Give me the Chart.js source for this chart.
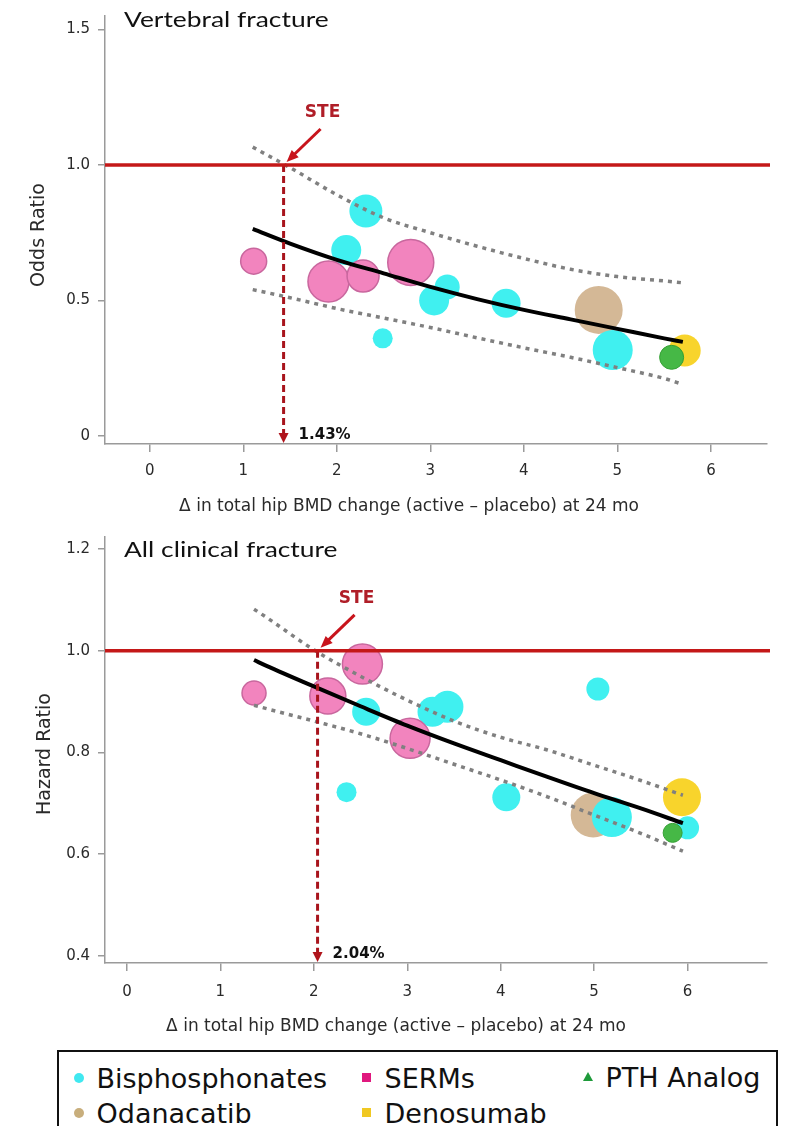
<!DOCTYPE html>
<html><head><meta charset="utf-8">
<script src="https://cdn.jsdelivr.net/npm/chart.js@4.4.1/dist/chart.umd.min.js"></script>
<style>
html,body{margin:0;padding:0;background:#fff;width:785px;height:1126px;overflow:hidden;}
#c1{position:absolute;left:0;top:0;}
#c2{position:absolute;left:0;top:520px;}
#legend{position:absolute;left:57px;top:1050px;width:721px;height:100px;border:2.5px solid #111;box-sizing:border-box;font-family:'DejaVu Sans';font-size:27px;color:#111;}
.item{position:absolute;white-space:nowrap;line-height:27px;}
.mk{position:absolute;}
</style></head>
<body>
<canvas id="c1" width="785" height="520"></canvas>
<canvas id="c2" width="785" height="522"></canvas>
<div id="legend"></div>
<script>
// ---------- shared ----------
const xTickVals = [0, 1, 2, 3, 4, 5, 6];
const xTickLabels = ['0', '1', '2', '3', '4', '5', '6'];
const xAxisTitle = 'Δ in total hip BMD change (active – placebo) at 24 mo';
const seriesNames = ['Bisphosphonates', 'SERMs', 'PTH Analog', 'Odanacatib', 'Denosumab'];

// ---------- Vertebral fracture ----------
const vTitle = 'Vertebral fracture';
const vYTitle = 'Odds Ratio';
const vYTickVals = [0, 0.5, 1.0, 1.5];
const vYTickLabels = ['0', '0.5', '1.0', '1.5'];
const vSTE = 1.43;
const vSTELabel = '1.43%';
const vBisX = [2.31, 2.10, 3.18, 3.04, 2.49, 3.81, 4.95];
const vBisY = [0.83, 0.686, 0.55, 0.50, 0.36, 0.49, 0.317];
const vBisR = [16.5, 15, 12.5, 15, 10, 14.5, 20];
const vSermX = [1.11, 1.91, 2.28, 2.79];
const vSermY = [0.645, 0.57, 0.59, 0.64];
const vSermR = [13, 20.5, 16, 23];
const vOdaX = [4.80];
const vOdaY = [0.465];
const vOdaR = [24];
const vDenoX = [5.72];
const vDenoY = [0.315];
const vDenoR = [16];
const vPthX = [5.58];
const vPthY = [0.29];
const vPthR = [12];
const vFitX = [1.1, 1.5, 2, 2.5, 3, 3.5, 4, 4.5, 5, 5.5, 5.7];
const vFitY = [0.764, 0.71, 0.65, 0.60, 0.55, 0.505, 0.465, 0.43, 0.395, 0.36, 0.347];
const vUpY = [1.066, 0.99, 0.89, 0.805, 0.75, 0.70, 0.655, 0.615, 0.588, 0.572, 0.565];
const vLoY = [0.54, 0.51, 0.47, 0.435, 0.40, 0.362, 0.325, 0.29, 0.252, 0.212, 0.19];

// ---------- All clinical fracture ----------
const cTitle = 'All clinical fracture';
const cYTitle = 'Hazard Ratio';
const cYTickVals = [0.4, 0.6, 0.8, 1.0, 1.2];
const cYTickLabels = ['0.4', '0.6', '0.8', '1.0', '1.2'];
const cSTE = 2.04;
const cSTELabel = '2.04%';
const cBisX = [2.56, 2.35, 3.27, 3.43, 5.04, 4.06, 5.19, 6.0];
const cBisY = [0.88, 0.722, 0.88, 0.89, 0.925, 0.712, 0.673, 0.652];
const cBisR = [14, 10, 15, 16, 11.5, 14, 20, 11.5];
const cSermX = [1.36, 2.15, 2.52, 3.03];
const cSermY = [0.917, 0.911, 0.974, 0.828];
const cSermR = [12, 18, 20, 20];
const cOdaX = [4.99];
const cOdaY = [0.677];
const cOdaR = [22.5];
const cDenoX = [5.94];
const cDenoY = [0.712];
const cDenoR = [19];
const cPthX = [5.84];
const cPthY = [0.642];
const cPthR = [9.5];
const cFitX = [1.36, 1.5, 2, 2.5, 3, 3.5, 4, 4.5, 5, 5.5, 5.95];
const cFitY = [0.982, 0.970, 0.930, 0.891, 0.853, 0.818, 0.785, 0.752, 0.72, 0.69, 0.661];
const cUpY = [1.082, 1.065, 1.002, 0.95, 0.903, 0.862, 0.83, 0.805, 0.775, 0.745, 0.716];
const cLoY = [0.893, 0.886, 0.862, 0.837, 0.808, 0.777, 0.746, 0.713, 0.677, 0.641, 0.606];

// ---------- helpers ----------
const bub = (xs, ys, rs) => xs.map((x, i) => ({x: x, y: ys[i], r: rs[i]}));
const pts = (xs, ys) => xs.map((x, i) => ({x: x, y: ys[i]}));
const AXIS = '#9a9a9a';
const TXT = '#2a2a2a';

const decoPlugin = {
  id: 'deco',
  afterDatasetsDraw(chart, args, o) {
    const {ctx, chartArea: a, scales: {x, y}} = chart;
    ctx.save();
    const y1 = y.getPixelForValue(1);
    const sx = x.getPixelForValue(o.ste);
    // dashed vertical
    ctx.strokeStyle = '#A8141C'; ctx.lineWidth = 3; ctx.setLineDash([7, 4]);
    ctx.beginPath(); ctx.moveTo(sx, y1); ctx.lineTo(sx, a.bottom - 10); ctx.stroke();
    ctx.setLineDash([]);
    ctx.fillStyle = '#B0141C';
    ctx.beginPath(); ctx.moveTo(sx - 5, a.bottom - 11); ctx.lineTo(sx + 5, a.bottom - 11); ctx.lineTo(sx, a.bottom - 1); ctx.closePath(); ctx.fill();
    // red reference line
    ctx.strokeStyle = '#C41818'; ctx.lineWidth = 3.5;
    ctx.beginPath(); ctx.moveTo(a.left, y1); ctx.lineTo(a.right + 3, y1); ctx.stroke();
    // STE arrow
    const tx = sx + 3, ty = y1 - 3;
    const fx = sx + 37, fy = y1 - 36;
    ctx.strokeStyle = '#C8141C'; ctx.lineWidth = 3;
    ctx.beginPath(); ctx.moveTo(fx, fy); ctx.lineTo(tx + 6, ty - 6); ctx.stroke();
    const ang = Math.atan2(ty - fy, tx - fx);
    ctx.fillStyle = '#C8141C';
    ctx.beginPath();
    ctx.moveTo(tx, ty);
    ctx.lineTo(tx - 12 * Math.cos(ang) + 5 * Math.sin(ang), ty - 12 * Math.sin(ang) - 5 * Math.cos(ang));
    ctx.lineTo(tx - 12 * Math.cos(ang) - 5 * Math.sin(ang), ty - 12 * Math.sin(ang) + 5 * Math.cos(ang));
    ctx.closePath(); ctx.fill();
    // STE label
    ctx.fillStyle = '#B01E28';
    ctx.font = 'bold 17px "DejaVu Sans"';
    ctx.textAlign = 'center'; ctx.textBaseline = 'middle';
    ctx.fillText('STE', sx + 39, y1 - 52);
    // value label
    ctx.fillStyle = '#111';
    ctx.font = 'bold 15px "DejaVu Sans"';
    ctx.textAlign = 'left';
    ctx.fillText(o.steLabel, sx + 15, a.bottom - 9);
    // x-axis title
    ctx.font = '17px "DejaVu Sans"';
    ctx.fillStyle = TXT;
    ctx.textAlign = 'center'; ctx.textBaseline = 'middle';
    ctx.fillText(xAxisTitle, o.xTitleX, o.xTitleY);
    // panel title (horizontally widened like the reference)
    ctx.save();
    ctx.translate(a.left + 19, o.titleBase);
    ctx.scale(1.2, 1);
    ctx.font = '22px Lato';
    ctx.fillStyle = '#111';
    ctx.textAlign = 'left';
    ctx.textBaseline = 'alphabetic';
    ctx.fillText(o.title, 0, 0);
    ctx.restore();
    // y-axis title
    ctx.fillStyle = TXT;
    ctx.textAlign = 'center'; ctx.textBaseline = 'middle';
    ctx.translate(o.yTitleX, (a.top + a.bottom) / 2 + o.yTitleDy);
    ctx.rotate(-Math.PI / 2);
    ctx.font = '19px "DejaVu Sans"';
    ctx.fillText(o.yTitle, 0, 0);
    ctx.restore();
  }
};

function makeChart(id, cfg) {
  const datasets = [
    {type: 'line', data: pts(cfg.fitX, cfg.fitY), borderColor: '#000', borderWidth: 4, pointRadius: 0, cubicInterpolationMode: 'monotone', fill: false, order: 1},
    {type: 'line', data: pts(cfg.fitX, cfg.upY), borderColor: '#808080', borderWidth: 3.5, borderDash: [4, 5], pointRadius: 0, cubicInterpolationMode: 'monotone', fill: false, order: 2},
    {type: 'line', data: pts(cfg.fitX, cfg.loY), borderColor: '#808080', borderWidth: 3.5, borderDash: [4, 5], pointRadius: 0, cubicInterpolationMode: 'monotone', fill: false, order: 3},
    {type: 'bubble', label: seriesNames[2], data: bub(cfg.pthX, cfg.pthY, cfg.pthR), backgroundColor: '#46B846', borderColor: '#34A034', borderWidth: 1, order: 4},
    {type: 'bubble', label: seriesNames[1], data: bub(cfg.sermX, cfg.sermY, cfg.sermR), backgroundColor: '#F284BE', borderColor: '#C9679E', borderWidth: 1.5, order: 5},
    {type: 'bubble', label: seriesNames[0], data: bub(cfg.bisX, cfg.bisY, cfg.bisR), backgroundColor: '#40F0F0', borderWidth: 0, order: 6},
    {type: 'bubble', label: seriesNames[4], data: bub(cfg.denoX, cfg.denoY, cfg.denoR), backgroundColor: '#F8D42C', borderWidth: 0, order: 7},
    {type: 'bubble', label: seriesNames[3], data: bub(cfg.odaX, cfg.odaY, cfg.odaR), backgroundColor: '#D4B896', borderWidth: 0, order: 8}
  ];
  return new Chart(document.getElementById(id), {
    type: 'bubble',
    data: {datasets: datasets},
    options: {
      responsive: false, animation: false, devicePixelRatio: 1,
      layout: {autoPadding: false, padding: {left: 0, right: 18, top: cfg.padTop, bottom: 0}},
      plugins: {legend: {display: false}, tooltip: {enabled: false}, deco: cfg.deco},
      scales: {
        x: {
          type: 'linear', min: cfg.xMin, max: cfg.xMax,
          afterBuildTicks: s => { s.ticks = xTickVals.map(v => ({value: v})); },
          afterFit: s => { s.height = cfg.xAxisH; s.paddingLeft = 0; s.paddingRight = 0; s.paddingTop = 0; s.paddingBottom = 0; },
          ticks: {autoSkip: false, maxRotation: 0, padding: cfg.xTickPad, color: TXT, font: {family: 'DejaVu Sans', size: 15},
                  callback: v => xTickLabels[xTickVals.indexOf(v)]},
          grid: {drawOnChartArea: false, drawTicks: true, tickLength: 8, color: AXIS, lineWidth: 1.5},
          border: {display: true, color: AXIS, width: 1.5}
        },
        y: {
          type: 'linear', min: cfg.yMin, max: cfg.yMax,
          afterBuildTicks: s => { s.ticks = cfg.yTickVals.map(v => ({value: v})); },
          afterFit: s => { s.width = 105; s.paddingTop = 0; s.paddingBottom = 0; s.paddingLeft = 0; s.paddingRight = 0; },
          ticks: {autoSkip: false, padding: 8, color: TXT, font: {family: 'DejaVu Sans', size: 15},
                  callback: v => cfg.yTickLabels[cfg.yTickVals.findIndex(t => Math.abs(t - v) < 1e-9)]},
          grid: {drawOnChartArea: false, drawTicks: true, tickLength: 7, color: AXIS, lineWidth: 1.5},
          border: {display: true, color: AXIS, width: 1.5}
        }
      }
    },
    plugins: [decoPlugin]
  });
}

makeChart('c1', {
  fitX: vFitX, fitY: vFitY, upY: vUpY, loY: vLoY,
  bisX: vBisX, bisY: vBisY, bisR: vBisR, sermX: vSermX, sermY: vSermY, sermR: vSermR,
  odaX: vOdaX, odaY: vOdaY, odaR: vOdaR, denoX: vDenoX, denoY: vDenoY, denoR: vDenoR,
  pthX: vPthX, pthY: vPthY, pthR: vPthR,
  xMin: -0.48, xMax: 6.6, yMin: -0.03, yMax: 1.55, padTop: 16, xAxisH: 76, xTickPad: 10,
  yTickVals: vYTickVals, yTickLabels: vYTickLabels,
  deco: {ste: vSTE, steLabel: vSTELabel, title: vTitle, titleBase: 27, yTitle: vYTitle,
         xTitleX: 409, xTitleY: 507, yTitleX: 39.5, yTitleDy: 5}
});
makeChart('c2', {
  fitX: cFitX, fitY: cFitY, upY: cUpY, loY: cLoY,
  bisX: cBisX, bisY: cBisY, bisR: cBisR, sermX: cSermX, sermY: cSermY, sermR: cSermR,
  odaX: cOdaX, odaY: cOdaY, odaR: cOdaR, denoX: cDenoX, denoY: cDenoY, denoR: cDenoR,
  pthX: cPthX, pthY: cPthY, pthR: cPthR,
  xMin: -0.235, xMax: 6.85, yMin: 0.386, yMax: 1.224, padTop: 17, xAxisH: 79, xTickPad: 12,
  yTickVals: cYTickVals, yTickLabels: cYTickLabels,
  deco: {ste: cSTE, steLabel: cSTELabel, title: cTitle, titleBase: 37, yTitle: cYTitle,
         xTitleX: 396, xTitleY: 507, yTitleX: 45.5, yTitleDy: 4}
});

// ---------- legend ----------
const legendColors = ['#40E8F0', '#E0187E', '#1E9A3A', '#C8AE7C', '#F0C822'];
const legendShapes = ['circle', 'square', 'triangle', 'circle', 'square'];
const legendPos = [[97, 1078], [385, 1078], [606, 1077], [97, 1113], [385, 1113]];
const lg = document.getElementById('legend');
const ox = 57 + 2.5, oy = 1050 + 2.5;
seriesNames.forEach((name, i) => {
  const [px, py] = legendPos[i];
  const mk = document.createElement('div');
  mk.className = 'mk';
  const mx = px - 18, my = py;
  if (legendShapes[i] === 'circle') {
    Object.assign(mk.style, {left: (mx - 5 - ox) + 'px', top: (my - 5 - oy) + 'px', width: '10px', height: '10px', borderRadius: '50%', background: legendColors[i]});
  } else if (legendShapes[i] === 'square') {
    Object.assign(mk.style, {left: (mx - 4.5 - ox) + 'px', top: (my - 4.5 - oy) + 'px', width: '9px', height: '9px', background: legendColors[i]});
  } else {
    Object.assign(mk.style, {left: (mx - 5 - ox) + 'px', top: (my - 5 - oy) + 'px', width: 0, height: 0,
      borderLeft: '5px solid transparent', borderRight: '5px solid transparent', borderBottom: '9px solid ' + legendColors[i]});
  }
  lg.appendChild(mk);
  const t = document.createElement('div');
  t.className = 'item';
  t.textContent = name;
  t.style.left = (px - ox) + 'px';
  t.style.top = (py - 13 - oy) + 'px';
  lg.appendChild(t);
});
</script>
</body></html>
